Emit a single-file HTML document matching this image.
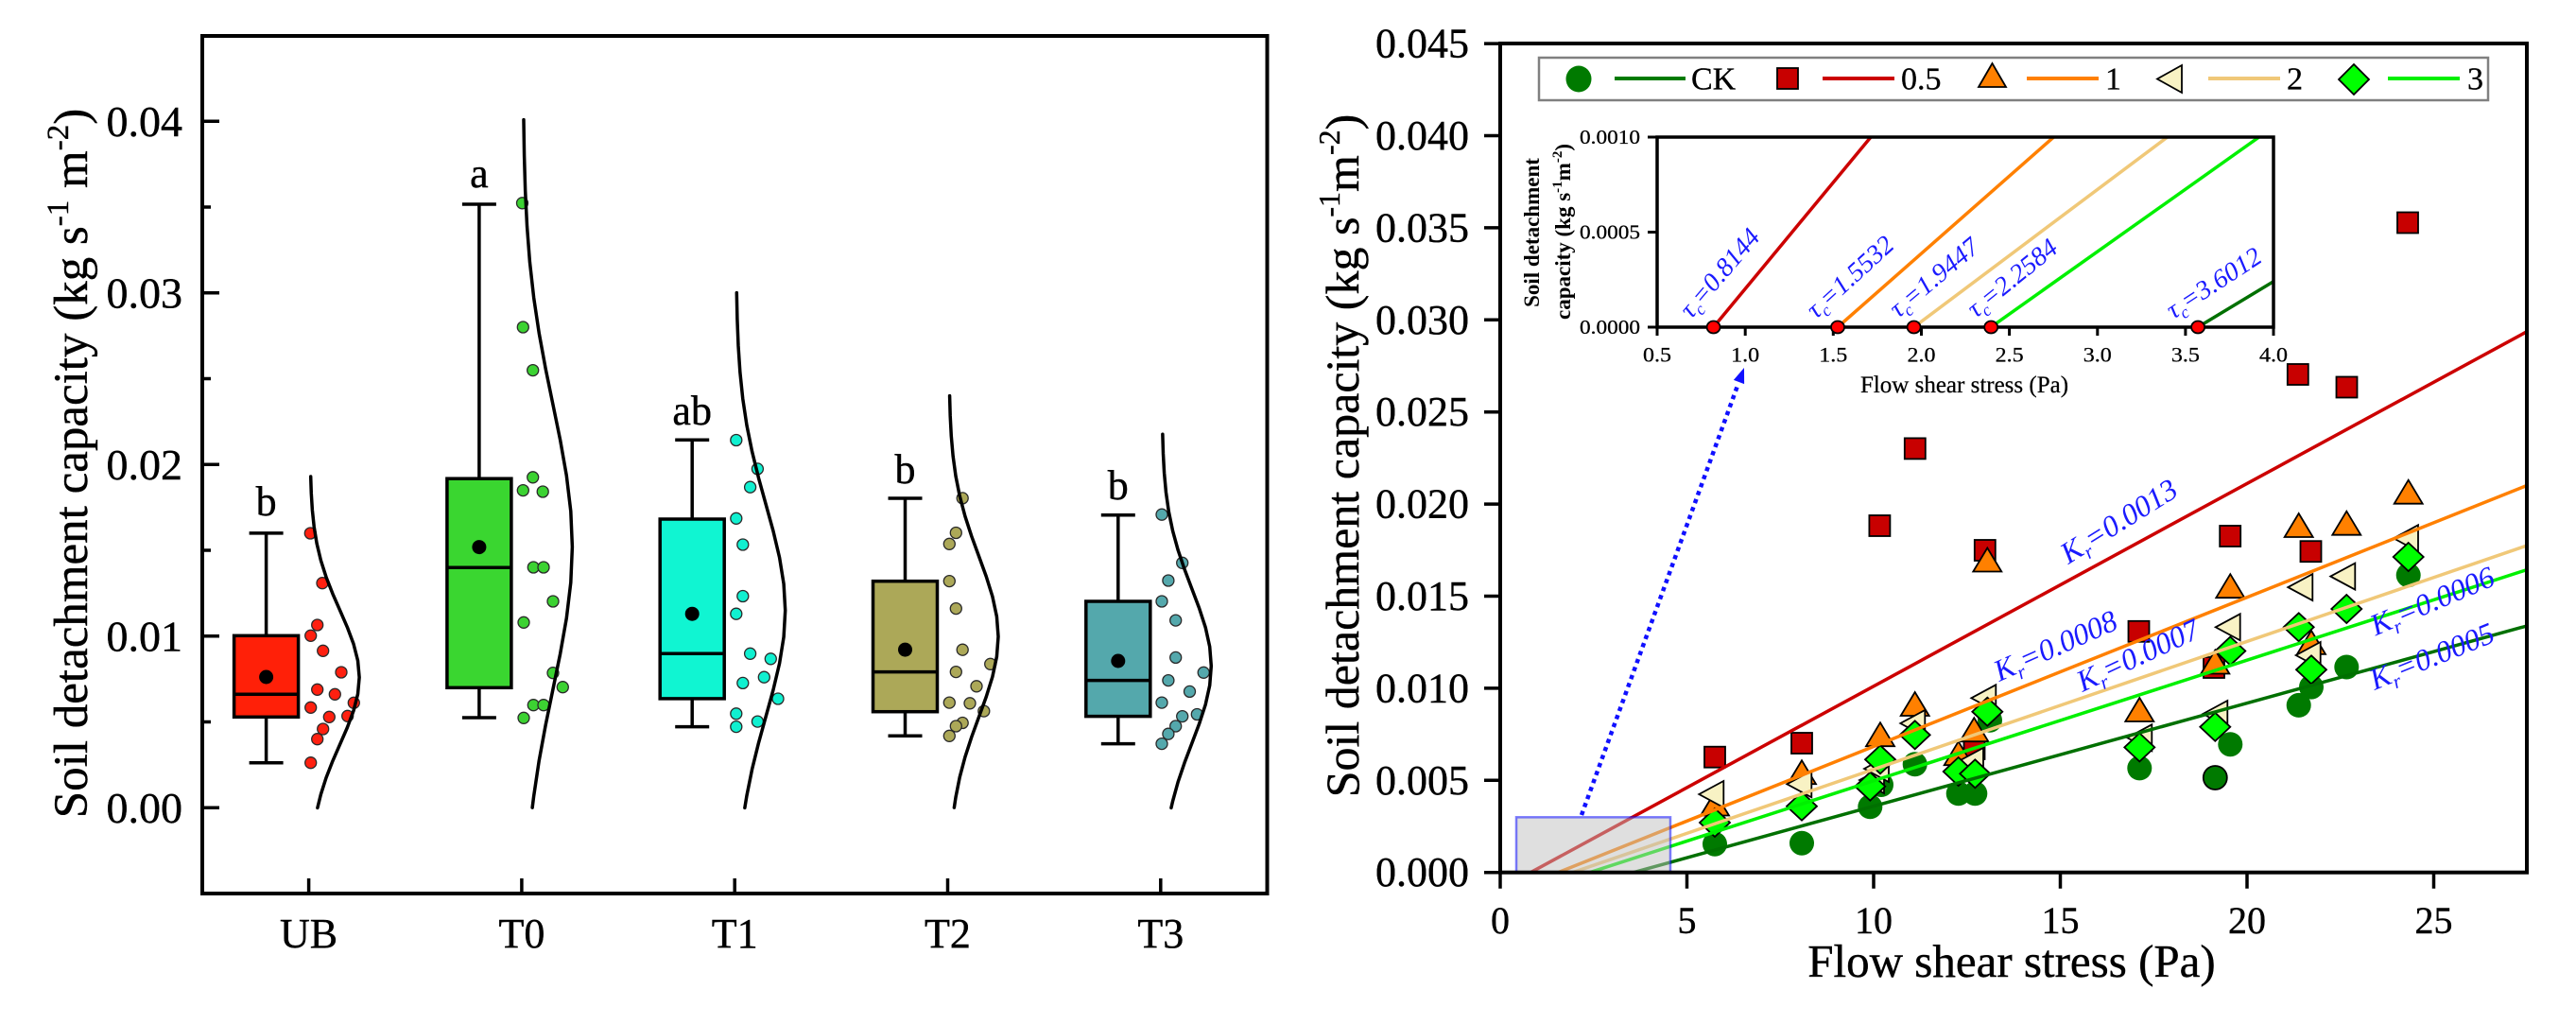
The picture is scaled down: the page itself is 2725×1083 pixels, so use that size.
<!DOCTYPE html>
<html>
<head>
<meta charset="utf-8">
<style>
html,body{margin:0;padding:0;background:#fff;overflow:hidden;}
svg{display:block;}
</style>
</head>
<body>
<svg width="2725" height="1083" viewBox="0 0 2725 1083" xmlns="http://www.w3.org/2000/svg" font-family="'Liberation Serif','Times New Roman',serif">
<rect x="0" y="0" width="2725" height="1083" fill="#fff"/>

<!-- ================= LEFT PANEL ================= -->
<g stroke="#000" stroke-width="3.5" fill="none">
<path d="M214,854.3h18M214,672.8h18M214,491.3h18M214,309.8h18M214,128.3h18"/>
<path d="M214,763.55h9M214,582.05h9M214,400.55h9M214,219.05h9"/>
<path d="M326.6,945v-16M551.9,945v-16M777.2,945v-16M1002.5,945v-16M1227.8,945v-16"/>
</g>
<g font-size="46" text-anchor="end" dominant-baseline="central" fill="#000" stroke="#000" stroke-width="0.4">
<text x="193" y="854.3">0.00</text>
<text x="193" y="672.8">0.01</text>
<text x="193" y="491.3">0.02</text>
<text x="193" y="309.8">0.03</text>
<text x="193" y="128.3">0.04</text>
</g>
<g font-size="44" text-anchor="middle" dominant-baseline="central" fill="#000" stroke="#000" stroke-width="0.4">
<text x="326.6" y="987.6">UB</text>
<text x="551.9" y="987.6">T0</text>
<text x="777.2" y="987.6">T1</text>
<text x="1002.5" y="987.6">T2</text>
<text x="1227.8" y="987.6">T3</text>
</g>
<text transform="translate(92,490) rotate(-90)" text-anchor="middle" font-size="51" fill="#000" stroke="#000" stroke-width="0.4">Soil detachment capacity (kg s<tspan font-size="33" dy="-20">-1</tspan><tspan dy="20"> m</tspan><tspan font-size="33" dy="-20">-2</tspan><tspan dy="20">)</tspan></text>

<!-- boxes -->
<g stroke="#000" stroke-width="3.5" fill="none">
<path d="M281.6,563.9V672.3M281.6,758.3V806.7M263.6,563.9h36M263.6,806.7h36"/>
<rect x="247.6" y="672.3" width="68" height="86" fill="#ff2008"/>
<path d="M247.6,734.3h68"/>
<path d="M506.9,216V506.2M506.9,727.3V759M488.9,216h36M488.9,759h36"/>
<rect x="472.9" y="506.2" width="68" height="221.1" fill="#3ad630"/>
<path d="M472.9,600.2h68"/>
<path d="M732.2,465.3V549M732.2,738.9V768.6M714.2,465.3h36M714.2,768.6h36"/>
<rect x="698.2" y="549" width="68" height="189.9" fill="#10f5d2"/>
<path d="M698.2,691.3h68"/>
<path d="M957.5,527V614.7M957.5,752.7V778.3M939.5,527h36M939.5,778.3h36"/>
<rect x="923.5" y="614.7" width="68" height="138" fill="#aca858"/>
<path d="M923.5,710.6h68"/>
<path d="M1182.8,544.8V636M1182.8,757.6V786.6M1164.8,544.8h36M1164.8,786.6h36"/>
<rect x="1148.8" y="636" width="68" height="121.6" fill="#54a8ac"/>
<path d="M1148.8,719.6h68"/>
</g>
<g fill="#000">
<circle cx="281.6" cy="716" r="7.5"/>
<circle cx="506.9" cy="578.6" r="7.5"/>
<circle cx="732.2" cy="649.2" r="7.5"/>
<circle cx="957.5" cy="687.1" r="7.5"/>
<circle cx="1182.8" cy="699" r="7.5"/>
</g>
<g font-size="44" text-anchor="middle" fill="#000" stroke="#000" stroke-width="0.4">
<text x="281.6" y="545">b</text>
<text x="506.9" y="198">a</text>
<text x="732.2" y="449">ab</text>
<text x="957.5" y="511">b</text>
<text x="1182.8" y="528">b</text>
</g>

<!-- dots -->
<g stroke="#2a2a2a" stroke-width="1.3">
<g fill="#ff2010">
<circle cx="328.3" cy="564" r="6"/><circle cx="341" cy="616.7" r="6"/><circle cx="335.7" cy="661" r="6"/><circle cx="328.7" cy="672.3" r="6"/><circle cx="341.7" cy="688.3" r="6"/><circle cx="361" cy="711" r="6"/><circle cx="335.7" cy="729.3" r="6"/><circle cx="354.3" cy="734.3" r="6"/><circle cx="328.7" cy="748.3" r="6"/><circle cx="374.3" cy="743.3" r="6"/><circle cx="348.3" cy="758.3" r="6"/><circle cx="367.7" cy="757.3" r="6"/><circle cx="341.7" cy="771" r="6"/><circle cx="335.7" cy="781.7" r="6"/><circle cx="328.7" cy="806.7" r="6"/>
</g>
<g fill="#3cd232">
<circle cx="552.5" cy="214.8" r="6"/><circle cx="553.3" cy="346" r="6"/><circle cx="563.7" cy="391.6" r="6"/><circle cx="563.7" cy="504.8" r="6"/><circle cx="553.3" cy="518.6" r="6"/><circle cx="574.2" cy="520" r="6"/><circle cx="564.3" cy="600" r="6"/><circle cx="575" cy="600" r="6"/><circle cx="585" cy="636" r="6"/><circle cx="554" cy="658.3" r="6"/><circle cx="585" cy="711.7" r="6"/><circle cx="595.3" cy="726.7" r="6"/><circle cx="564.3" cy="745.7" r="6"/><circle cx="575" cy="745.7" r="6"/><circle cx="554" cy="759.3" r="6"/>
</g>
<g fill="#10f0d0">
<circle cx="778.8" cy="465.5" r="6"/><circle cx="801.4" cy="495.9" r="6"/><circle cx="793.6" cy="515.2" r="6"/><circle cx="778.8" cy="548.3" r="6"/><circle cx="785.8" cy="576" r="6"/><circle cx="785.8" cy="630.5" r="6"/><circle cx="778.8" cy="649.2" r="6"/><circle cx="793.6" cy="691.3" r="6"/><circle cx="815.3" cy="696.8" r="6"/><circle cx="808.3" cy="716.2" r="6"/><circle cx="785.8" cy="722.4" r="6"/><circle cx="823" cy="739" r="6"/><circle cx="778.8" cy="754.8" r="6"/><circle cx="801.4" cy="763.1" r="6"/><circle cx="778.8" cy="768.6" r="6"/>
</g>
<g fill="#aca858">
<circle cx="1018.2" cy="526.9" r="6"/><circle cx="1011.3" cy="563.5" r="6"/><circle cx="1004.3" cy="575.3" r="6"/><circle cx="1004.3" cy="614.6" r="6"/><circle cx="1011.3" cy="643.6" r="6"/><circle cx="1018.2" cy="687.2" r="6"/><circle cx="1047.7" cy="702.3" r="6"/><circle cx="1011.3" cy="710.6" r="6"/><circle cx="1033" cy="725.8" r="6"/><circle cx="1004.3" cy="743.1" r="6"/><circle cx="1026" cy="743.8" r="6"/><circle cx="1040.8" cy="752.1" r="6"/><circle cx="1018.2" cy="764.5" r="6"/><circle cx="1011.3" cy="768" r="6"/><circle cx="1004.3" cy="778.3" r="6"/>
</g>
<g fill="#54a8ac">
<circle cx="1229" cy="544.2" r="6"/><circle cx="1250.7" cy="595.3" r="6"/><circle cx="1235.9" cy="614" r="6"/><circle cx="1229" cy="636" r="6"/><circle cx="1243.7" cy="656.1" r="6"/><circle cx="1243.7" cy="695.4" r="6"/><circle cx="1273.2" cy="711.3" r="6"/><circle cx="1235.9" cy="719.6" r="6"/><circle cx="1258.5" cy="731.4" r="6"/><circle cx="1229" cy="743.1" r="6"/><circle cx="1250.7" cy="757.6" r="6"/><circle cx="1266.3" cy="755.5" r="6"/><circle cx="1243.7" cy="768" r="6"/><circle cx="1235.9" cy="776.2" r="6"/><circle cx="1229" cy="786.6" r="6"/>
</g>
</g>

<!-- half-violin normal curves -->
<g fill="none" stroke="#000" stroke-width="3.5" stroke-linejoin="round" stroke-linecap="round">
<polyline vector-effect="non-scaling-stroke" transform="translate(328.1,716.4) scale(52,-70.8)" points="0.0111,3 0.0228,2.75 0.0439,2.5 0.0796,2.25 0.1353,2 0.2163,1.75 0.3247,1.5 0.4578,1.25 0.6065,1 0.7548,0.75 0.8825,0.5 0.9692,0.25 1,0 0.9692,-0.25 0.8825,-0.5 0.7548,-0.75 0.6065,-1 0.4578,-1.25 0.3247,-1.5 0.2163,-1.75 0.1497,-1.949"/>
<polyline vector-effect="non-scaling-stroke" transform="translate(553.4,578.4) scale(52,-150.6)" points="0.0111,3 0.0228,2.75 0.0439,2.5 0.0796,2.25 0.1353,2 0.2163,1.75 0.3247,1.5 0.4578,1.25 0.6065,1 0.7548,0.75 0.8825,0.5 0.9692,0.25 1,0 0.9692,-0.25 0.8825,-0.5 0.7548,-0.75 0.6065,-1 0.4578,-1.25 0.3247,-1.5 0.2163,-1.75 0.1871,-1.831"/>
<polyline vector-effect="non-scaling-stroke" transform="translate(778.7,645.6) scale(52,-112)" points="0.0111,3 0.0228,2.75 0.0439,2.5 0.0796,2.25 0.1353,2 0.2163,1.75 0.3247,1.5 0.4578,1.25 0.6065,1 0.7548,0.75 0.8825,0.5 0.9692,0.25 1,0 0.9692,-0.25 0.8825,-0.5 0.7548,-0.75 0.6065,-1 0.4578,-1.25 0.3247,-1.5 0.2163,-1.75 0.1761,-1.864"/>
<polyline vector-effect="non-scaling-stroke" transform="translate(1004,673.3) scale(52,-84.9)" points="0.0111,3 0.0228,2.75 0.0439,2.5 0.0796,2.25 0.1353,2 0.2163,1.75 0.3247,1.5 0.4578,1.25 0.6065,1 0.7548,0.75 0.8825,0.5 0.9692,0.25 1,0 0.9692,-0.25 0.8825,-0.5 0.7548,-0.75 0.6065,-1 0.4578,-1.25 0.3247,-1.5 0.2163,-1.75 0.1353,-2 0.1035,-2.13"/>
<polyline vector-effect="non-scaling-stroke" transform="translate(1229.3,704.4) scale(52,-81.7)" points="0.0111,3 0.0228,2.75 0.0439,2.5 0.0796,2.25 0.1353,2 0.2163,1.75 0.3247,1.5 0.4578,1.25 0.6065,1 0.7548,0.75 0.8825,0.5 0.9692,0.25 1,0 0.9692,-0.25 0.8825,-0.5 0.7548,-0.75 0.6065,-1 0.4578,-1.25 0.3247,-1.5 0.2163,-1.75 0.1854,-1.836"/>
</g>
<rect x="214" y="38" width="1126.5" height="907" fill="none" stroke="#000" stroke-width="4"/>

<!-- ================= RIGHT PANEL ================= -->
<defs>
<clipPath id="cpMain"><rect x="1587" y="46" width="1086" height="876.7"/></clipPath>
<clipPath id="cpInset"><rect x="1753" y="145" width="652" height="201"/></clipPath>
</defs>

<!-- markers -->
<g>
<g fill="#007a00">
<circle cx="1814" cy="892.7" r="13"/><circle cx="1906" cy="891.7" r="13"/><circle cx="1978.3" cy="853.3" r="13"/><circle cx="1990" cy="830" r="13"/><circle cx="2025.7" cy="808.3" r="13"/><circle cx="2071.7" cy="839.3" r="13"/><circle cx="2089.3" cy="839.3" r="13"/><circle cx="2105" cy="761.7" r="13"/><circle cx="2263.3" cy="812.4" r="13"/><circle cx="2359.3" cy="787.2" r="13"/><circle cx="2431.7" cy="745.9" r="13"/><circle cx="2445" cy="726.6" r="13"/><circle cx="2482.3" cy="705.5" r="13"/><circle cx="2547.7" cy="608.3" r="13"/>
<circle cx="2343.3" cy="822.5" r="12.5" stroke="#000" stroke-width="1.8"/>
</g>
<g fill="#c80000" stroke="#000" stroke-width="1.8">
<rect x="1803" y="789.7" width="22" height="22"/><rect x="1895" y="775" width="22" height="22"/><rect x="1977.4" y="545" width="22" height="22"/><rect x="2014.8" y="463.4" width="22" height="22"/><rect x="2088.8" y="571" width="22" height="22"/><rect x="2077.5" y="781" width="22" height="22"/><rect x="2251.5" y="656.8" width="22" height="22"/><rect x="2331" y="695" width="22" height="22"/><rect x="2348.2" y="556" width="22" height="22"/><rect x="2419.8" y="385" width="22" height="22"/><rect x="2433.5" y="572.2" width="22" height="22"/><rect x="2471.5" y="398.5" width="22" height="22"/><rect x="2536" y="224.5" width="22" height="22"/>
</g>
<g fill="#ff8000" stroke="#000" stroke-width="1.8" stroke-linejoin="miter">
<polygon points="1814,837.5 1799,862.5 1829,862.5"/>
<polygon points="1906,804.2 1891,829.2 1921,829.2"/>
<polygon points="1989,764.2 1974,789.2 2004,789.2"/>
<polygon points="2025.7,732 2010.7,757 2040.7,757"/>
<polygon points="2071.7,784.2 2056.7,809.2 2086.7,809.2"/>
<polygon points="2088.3,759.2 2073.3,784.2 2103.3,784.2"/>
<polygon points="2102.3,579.5 2087.3,604.5 2117.3,604.5"/>
<polygon points="2263.3,738 2248.3,763 2278.3,763"/>
<polygon points="2343.3,687.5 2328.3,712.5 2358.3,712.5"/>
<polygon points="2359.3,607.2 2344.3,632.2 2374.3,632.2"/>
<polygon points="2431.7,543 2416.7,568 2446.7,568"/>
<polygon points="2445,666.9 2430,691.9 2460,691.9"/>
<polygon points="2482.3,540.7 2467.3,565.7 2497.3,565.7"/>
<polygon points="2547.7,507.7 2532.7,532.7 2562.7,532.7"/>
</g>
<g fill="#f8f2c4" stroke="#000" stroke-width="1.8">
<polygon points="1797.3,840 1823.3,826 1823.3,854"/>
<polygon points="1890.3,829.3 1916.3,815.3 1916.3,843.3"/>
<polygon points="1967,825 1993,811 1993,839"/>
<polygon points="1972,813 1998,799 1998,827"/>
<polygon points="2010.3,765 2036.3,751 2036.3,779"/>
<polygon points="2072,805 2098,791 2098,819"/>
<polygon points="2085.3,738.3 2111.3,724.3 2111.3,752.3"/>
<polygon points="2250.3,780.3 2276.3,766.3 2276.3,794.3"/>
<polygon points="2330.3,755 2356.3,741 2356.3,769"/>
<polygon points="2343.7,663.3 2369.7,649.3 2369.7,677.3"/>
<polygon points="2420.3,621.1 2446.3,607.1 2446.3,635.1"/>
<polygon points="2428.7,693 2454.7,679 2454.7,707"/>
<polygon points="2465.3,609.6 2491.3,595.6 2491.3,623.6"/>
<polygon points="2532,569.3 2558,555.3 2558,583.3"/>
</g>
<g fill="#00ff00" stroke="#000" stroke-width="1.8">
<polygon points="1814,855 1830,870 1814,885 1798,870"/>
<polygon points="1906,837.7 1922,852.7 1906,867.7 1890,852.7"/>
<polygon points="1978.3,816.7 1994.3,831.7 1978.3,846.7 1962.3,831.7"/>
<polygon points="1989,788.3 2005,803.3 1989,818.3 1973,803.3"/>
<polygon points="2025.7,762.3 2041.7,777.3 2025.7,792.3 2009.7,777.3"/>
<polygon points="2071.7,801 2087.7,816 2071.7,831 2055.7,816"/>
<polygon points="2089.3,803.3 2105.3,818.3 2089.3,833.3 2073.3,818.3"/>
<polygon points="2102.3,737.7 2118.3,752.7 2102.3,767.7 2086.3,752.7"/>
<polygon points="2263.3,775.4 2279.3,790.4 2263.3,805.4 2247.3,790.4"/>
<polygon points="2343.3,753.8 2359.3,768.8 2343.3,783.8 2327.3,768.8"/>
<polygon points="2359.3,673.5 2375.3,688.5 2359.3,703.5 2343.3,688.5"/>
<polygon points="2431.7,648.3 2447.7,663.3 2431.7,678.3 2415.7,663.3"/>
<polygon points="2445,693.3 2461,708.3 2445,723.3 2429,708.3"/>
<polygon points="2482.3,629 2498.3,644 2482.3,659 2466.3,644"/>
<polygon points="2547.7,574 2563.7,589 2547.7,604 2531.7,589"/>
</g>
</g>

<!-- fit lines -->
<g clip-path="url(#cpMain)" stroke-width="3.5" fill="none">
<line x1="1619.2" y1="922.7" x2="2673.3" y2="350.6" stroke="#cc0000"/>
<line x1="1648.4" y1="922.7" x2="2673.3" y2="513.4" stroke="#ff8000"/>
<line x1="1663.8" y1="922.7" x2="2673.3" y2="576.9" stroke="#f0c878"/>
<line x1="1681.8" y1="922.7" x2="2673.3" y2="602.5" stroke="#00f000"/>
<line x1="1728" y1="922.7" x2="2673.3" y2="661.9" stroke="#007000"/>
</g>

<rect x="1604" y="864.3" width="163" height="58.4" fill="#c0c0c0" fill-opacity="0.5" stroke="#0000ff" stroke-opacity="0.5" stroke-width="2.5"/>

<line x1="1673" y1="862" x2="1838" y2="408" stroke="#1010ff" stroke-width="4.5" stroke-dasharray="4.5 4.5"/>
<polygon points="1845,389 1845.1,406.1 1833.9,401.9" fill="#1010ff"/>

<g font-size="32" font-style="italic" fill="#1a1aff">
<text transform="translate(2188,597) rotate(-32)">K<tspan font-size="21" dy="7">r</tspan><tspan dy="-7">=0.0013</tspan></text>
<text transform="translate(2115,721) rotate(-24)">K<tspan font-size="21" dy="7">r</tspan><tspan dy="-7">=0.0008</tspan></text>
<text transform="translate(2203,732) rotate(-25)">K<tspan font-size="21" dy="7">r</tspan><tspan dy="-7">=0.0007</tspan></text>
<text transform="translate(2513,672.5) rotate(-23)">K<tspan font-size="21" dy="7">r</tspan><tspan dy="-7">=0.0006</tspan></text>
<text transform="translate(2512,730) rotate(-22)">K<tspan font-size="21" dy="7">r</tspan><tspan dy="-7">=0.0005</tspan></text>
</g>

<g stroke="#000" stroke-width="3.5" fill="none">
<path d="M1587,922.7h-17M1587,825.3h-17M1587,727.9h-17M1587,630.5h-17M1587,533.1h-17M1587,435.7h-17M1587,338.3h-17M1587,240.9h-17M1587,143.5h-17M1587,46.1h-17"/>
<path d="M1587,922.7v17M1784.5,922.7v17M1982,922.7v17M2179.5,922.7v17M2377,922.7v17M2574.5,922.7v17"/>
</g>
<g font-size="44" text-anchor="end" dominant-baseline="central" fill="#000" stroke="#000" stroke-width="0.4">
<text x="1554" y="922.7">0.000</text>
<text x="1554" y="825.3">0.005</text>
<text x="1554" y="727.9">0.010</text>
<text x="1554" y="630.5">0.015</text>
<text x="1554" y="533.1">0.020</text>
<text x="1554" y="435.7">0.025</text>
<text x="1554" y="338.3">0.030</text>
<text x="1554" y="240.9">0.035</text>
<text x="1554" y="143.5">0.040</text>
<text x="1554" y="46.1">0.045</text>
</g>
<g font-size="40" text-anchor="middle" dominant-baseline="central" fill="#000" stroke="#000" stroke-width="0.4">
<text x="1587" y="973.5">0</text>
<text x="1784.5" y="973.5">5</text>
<text x="1982" y="973.5">10</text>
<text x="2179.5" y="973.5">15</text>
<text x="2377" y="973.5">20</text>
<text x="2574.5" y="973.5">25</text>
</g>
<text x="2128" y="1033" font-size="49" text-anchor="middle" fill="#000" stroke="#000" stroke-width="0.4">Flow shear stress (Pa)</text>
<text transform="translate(1437,482) rotate(-90)" text-anchor="middle" font-size="50" fill="#000" stroke="#000" stroke-width="0.4">Soil detachment capacity (kg s<tspan font-size="32" dy="-20">-1</tspan><tspan dy="20">m</tspan><tspan font-size="32" dy="-20">-2</tspan><tspan dy="20">)</tspan></text>

<!-- legend -->
<rect x="1628" y="61" width="1004" height="45" fill="#fff" stroke="#808080" stroke-width="2.5"/>
<ellipse cx="1670" cy="83.5" rx="13.5" ry="14" fill="#007a00"/>
<line x1="1708" y1="83" x2="1783" y2="83" stroke="#007a00" stroke-width="4"/>
<rect x="1880" y="72" width="22" height="22" fill="#c80000" stroke="#000" stroke-width="1.8"/>
<line x1="1928" y1="83" x2="2004" y2="83" stroke="#cc0000" stroke-width="4"/>
<polygon points="2107.5,67 2093,92 2122,92" fill="#ff8000" stroke="#000" stroke-width="1.8"/>
<line x1="2144" y1="83" x2="2220" y2="83" stroke="#ff8000" stroke-width="4"/>
<polygon points="2282,83.5 2308,69 2308,98" fill="#f8f2c4" stroke="#000" stroke-width="1.8"/>
<line x1="2336" y1="83" x2="2412" y2="83" stroke="#f0c878" stroke-width="4"/>
<polygon points="2490,68 2506,84 2490,100 2474,84" fill="#00ff00" stroke="#000" stroke-width="1.8"/>
<line x1="2526" y1="83" x2="2602" y2="83" stroke="#00f000" stroke-width="4"/>
<g font-size="34" dominant-baseline="central" fill="#000" stroke="#000" stroke-width="0.3">
<text x="1789" y="84">CK</text>
<text x="2011" y="84">0.5</text>
<text x="2227" y="84">1</text>
<text x="2419" y="84">2</text>
<text x="2610" y="84">3</text>
</g>

<!-- inset -->
<rect x="1753" y="145" width="652" height="201" fill="#fff"/>
<g clip-path="url(#cpInset)" stroke-width="3.5" fill="none">
<line x1="1812.6" y1="346" x2="1979" y2="145" stroke="#cc0000"/>
<line x1="1944" y1="346" x2="2172.4" y2="145" stroke="#ff8000"/>
<line x1="2024.6" y1="346" x2="2292.7" y2="145" stroke="#f0c878"/>
<line x1="2106" y1="346" x2="2389.7" y2="145" stroke="#00f000"/>
<line x1="2325" y1="346" x2="2405" y2="297.7" stroke="#007000"/>
</g>
<rect x="1753" y="145" width="652" height="201" fill="none" stroke="#000" stroke-width="3.5"/>
<g stroke="#000" stroke-width="3" fill="none">
<path d="M1753,346v9M1846.2,346v9M1939.3,346v9M2032.5,346v9M2125.6,346v9M2218.8,346v9M2311.9,346v9M2405,346v9"/>
<path d="M1753,346h-10M1753,245.5h-10M1753,145h-10"/>
</g>
<g fill="#ff0000" stroke="#000" stroke-width="1.8">
<ellipse cx="1812.6" cy="346" rx="7" ry="6.5"/>
<ellipse cx="1944" cy="346" rx="7" ry="6.5"/>
<ellipse cx="2024.6" cy="346" rx="7" ry="6.5"/>
<ellipse cx="2106.2" cy="346" rx="7" ry="6.5"/>
<ellipse cx="2325.1" cy="346" rx="7" ry="6.5"/>
</g>
<g font-size="22" text-anchor="middle" dominant-baseline="central" fill="#000" stroke="#000" stroke-width="0.25">
<text x="1753" y="375" textLength="30" lengthAdjust="spacingAndGlyphs">0.5</text>
<text x="1846.2" y="375" textLength="30" lengthAdjust="spacingAndGlyphs">1.0</text>
<text x="1939.3" y="375" textLength="30" lengthAdjust="spacingAndGlyphs">1.5</text>
<text x="2032.5" y="375" textLength="30" lengthAdjust="spacingAndGlyphs">2.0</text>
<text x="2125.6" y="375" textLength="30" lengthAdjust="spacingAndGlyphs">2.5</text>
<text x="2218.8" y="375" textLength="30" lengthAdjust="spacingAndGlyphs">3.0</text>
<text x="2311.9" y="375" textLength="30" lengthAdjust="spacingAndGlyphs">3.5</text>
<text x="2405" y="375" textLength="30" lengthAdjust="spacingAndGlyphs">4.0</text>
</g>
<g font-size="21" text-anchor="end" dominant-baseline="central" fill="#000" stroke="#000" stroke-width="0.25">
<text x="1735" y="346" textLength="64" lengthAdjust="spacingAndGlyphs">0.0000</text>
<text x="1735" y="245.5" textLength="64" lengthAdjust="spacingAndGlyphs">0.0005</text>
<text x="1735" y="145" textLength="64" lengthAdjust="spacingAndGlyphs">0.0010</text>
</g>
<text x="2078" y="415" font-size="25" text-anchor="middle" fill="#000" stroke="#000" stroke-width="0.25">Flow shear stress (Pa)</text>
<text transform="translate(1628,246) rotate(-90)" text-anchor="middle" font-size="23" font-weight="bold" fill="#000">Soil detachment</text>
<text transform="translate(1661,245) rotate(-90)" text-anchor="middle" font-size="23" font-weight="bold" fill="#000">capacity (kg s<tspan font-size="15" dy="-9">-1</tspan><tspan dy="9">m</tspan><tspan font-size="15" dy="-9">-2</tspan><tspan dy="9">)</tspan></text>

<g font-size="28" font-style="italic" fill="#1a1aff">
<text transform="translate(1789,338) rotate(-49.4)">τ<tspan font-size="18" dy="6">c</tspan><tspan dy="-6">=0.8144</tspan></text>
<text transform="translate(1921,338) rotate(-42.3)">τ<tspan font-size="18" dy="6">c</tspan><tspan dy="-6">=1.5532</tspan></text>
<text transform="translate(2008,337) rotate(-39.8)">τ<tspan font-size="18" dy="6">c</tspan><tspan dy="-6">=1.9447</tspan></text>
<text transform="translate(2090,337) rotate(-39)">τ<tspan font-size="18" dy="6">c</tspan><tspan dy="-6">=2.2584</tspan></text>
<text transform="translate(2299,338) rotate(-33)">τ<tspan font-size="18" dy="6">c</tspan><tspan dy="-6">=3.6012</tspan></text>
</g>

<rect x="1587" y="46" width="1086" height="876.7" fill="none" stroke="#000" stroke-width="4"/>
</svg>
</body>
</html>
